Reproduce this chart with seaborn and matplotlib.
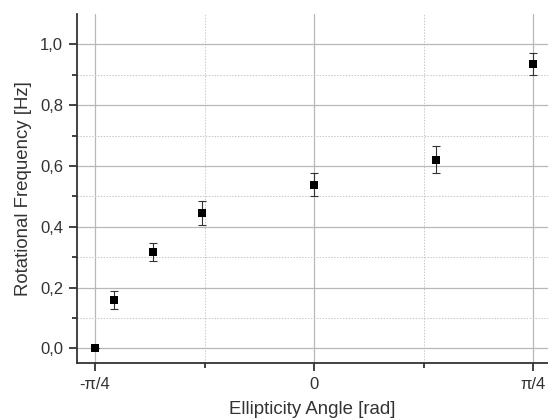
import numpy as np
import pandas as pd
import matplotlib
matplotlib.use("Agg")
import matplotlib.pyplot as plt
import seaborn as sns

# data (angles in degrees, converted to rad)
angle_deg = [-45, -41, -33, -23, 0, 25, 45]
freq = [0.0, 0.159, 0.317, 0.446, 0.539, 0.621, 0.935]
freq_err = [0.0, 0.030, 0.029, 0.039, 0.039, 0.045, 0.037]
x_ticks = [-np.pi / 4, 0, np.pi / 4]
x_ticklabels = ["-\u03c0/4", "0", "\u03c0/4"]
y_ticks = [0.0, 0.2, 0.4, 0.6, 0.8, 1.0]
y_ticklabels = ["0,0", "0,2", "0,4", "0,6", "0,8", "1,0"]

df = pd.DataFrame({"angle": np.deg2rad(angle_deg), "freq": freq, "err": freq_err})

sns.set_style("white")
plt.rcParams["font.family"] = ["Liberation Sans", "DejaVu Sans"]

fig = plt.figure(figsize=(5.48, 4.19), dpi=100)
ax = fig.add_axes([0.1405, 0.1325, 0.8595, 0.834])

grid_c = "#b8b8b8"
ax.set_xlim(-0.850, 0.839)
ax.set_ylim(-0.05, 1.1)
ax.set_xticks(x_ticks)
ax.set_xticklabels(x_ticklabels)
ax.set_xticks([-np.pi / 8, np.pi / 8], minor=True)
ax.set_yticks(y_ticks)
ax.set_yticklabels(y_ticklabels)
ax.set_yticks([0.1, 0.3, 0.5, 0.7, 0.9], minor=True)
ax.grid(True, which="major", color=grid_c, linewidth=0.9, linestyle="-")
ax.grid(True, which="minor", color="#c8c8c8", linewidth=0.7, linestyle=(0, (1.5, 1.5)))
ax.set_axisbelow(True)

ax.errorbar(df["angle"], df["freq"], yerr=df["err"], fmt="none",
            ecolor="#333333", elinewidth=0.8, capsize=3, capthick=0.8, zorder=3)
sns.scatterplot(data=df, x="angle", y="freq", marker="s", color="black",
                s=34, edgecolor="black", linewidth=0, ax=ax, zorder=4)

for s in ["top", "right"]:
    ax.spines[s].set_visible(False)
for s in ["left", "bottom"]:
    ax.spines[s].set_color("#333333")
    ax.spines[s].set_linewidth(1.3)

ax.tick_params(axis="both", which="major", direction="out", length=6, width=1.3,
               color="#333333", labelsize=12, labelcolor="#333333",
               bottom=True, left=True, pad=4)
ax.tick_params(axis="both", which="minor", direction="out", length=3.5, width=1.3,
               color="#333333", bottom=True, left=True)

ax.set_xlabel("Ellipticity Angle [rad]", fontsize=13.4, color="#333333", labelpad=6.5)
ax.set_ylabel("Rotational Frequency [Hz]", fontsize=13.4, color="#333333", labelpad=6)

fig.savefig("out.png", dpi=100)
